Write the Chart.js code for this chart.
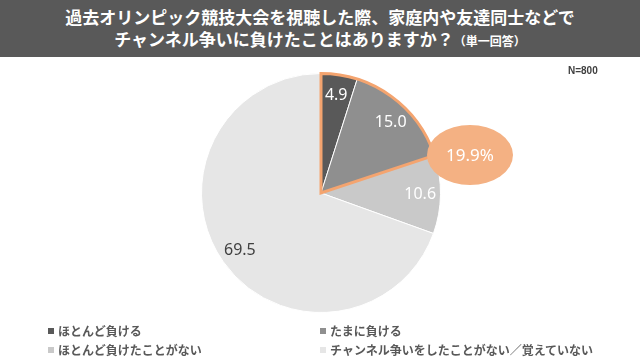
<!DOCTYPE html>
<html>
<head>
<meta charset="utf-8">
<script src="https://cdn.jsdelivr.net/npm/chart.js@4/dist/chart.umd.min.js"></script>
<style>
  body { margin: 0; background: #fff; }
  #wrap { position: relative; width: 640px; height: 364px; overflow: hidden; font-family: "Noto Sans CJK JP", "Noto Sans", sans-serif; }
  #title { position: absolute; left: 0; top: 0; width: 640px; height: 57px; background: #595959; color: #fff; text-align: center; font-weight: bold; font-size: 17px; line-height: 22px; padding-top: 6px; box-sizing: border-box; }
  #title small { font-size: 12px; }
  #n { position: absolute; left: 568px; top: 65px; font-family: "Liberation Sans", sans-serif; font-weight: bold; font-size: 10px; color: #404040; }
  #legend { position: absolute; left: 48px; top: 322px; width: 560px; }
  .item { position: absolute; font-size: 12px; color: #595959; white-space: nowrap; font-weight: bold; }
  .item span { display: inline-block; width: 6px; height: 6px; margin-right: 4px; vertical-align: 2px; }
  canvas { position: absolute; left: 0; top: 0; }
</style>
</head>
<body>
<div id="wrap">
  <canvas id="cvs" width="640" height="364"></canvas>
  <div id="title">過去オリンピック競技大会を視聴した際、家庭内や友達同士などで<br>チャンネル争いに負けたことはありますか？<small>（単一回答）</small></div>
  <div id="n">N=800</div>
  <div id="legend"></div>
</div>
<script>
// data
const labels = ['ほとんど負ける', 'たまに負ける', 'ほとんど負けたことがない', 'チャンネル争いをしたことがない／覚えていない'];
const values = [4.9, 15.0, 10.6, 69.5];
const colors = ['#595959', '#8f8f8f', '#c9c9c9', '#e6e6e6'];
const labelColors = ['#ffffff', '#ffffff', '#ffffff', '#404040'];
const calloutText = '19.9%';

/*==========| legend |========== */
const legend = document.getElementById('legend');
labels.forEach((lab, i) => {
    const d = document.createElement('div');
    d.className = 'item';
    d.style.left = (i % 2 ? 272 : 0) + 'px';
    d.style.top = (Math.floor(i / 2) * 19) + 'px';
    d.innerHTML = `<span style="background:${colors[i]}"></span>${lab}`;
    legend.appendChild(d);
});

/*==========| labels + outline + callout |========== */
const piePlugin = {
    id: 'piePlugin',
    afterDatasetsDraw(chart) {
        const ctx = chart.ctx;
        const arcs = chart.getDatasetMeta(0).data;
        const cx = arcs[0].x, cy = arcs[0].y, r = arcs[0].outerRadius;

        // outline round the first two slices
        ctx.save();
        ctx.beginPath();
        ctx.moveTo(cx, cy);
        ctx.arc(cx, cy, r, arcs[0].startAngle, arcs[1].endAngle);
        ctx.closePath();
        ctx.lineWidth = 3;
        ctx.lineJoin = 'miter';
        ctx.strokeStyle = '#f4a46f';
        ctx.stroke();

        // values
        ctx.font = '16px "Noto Sans", sans-serif';
        ctx.textAlign = 'center';
        ctx.textBaseline = 'middle';
        arcs.forEach((a, i) => {
            const mid = (a.startAngle + a.endAngle) / 2;
            const rr = r * 0.83;
            ctx.fillStyle = labelColors[i];
            ctx.fillText(values[i].toFixed(1), cx + Math.cos(mid) * rr, cy + Math.sin(mid) * rr);
        });

        // callout
        ctx.beginPath();
        ctx.ellipse(cx + 149, cy - 38, 43, 30, 0, 0, Math.PI * 2);
        ctx.fillStyle = '#f4b183';
        ctx.fill();
        ctx.fillStyle = '#ffffff';
        ctx.font = '17px "Noto Sans", sans-serif';
        ctx.fillText(calloutText, cx + 149, cy - 37);
        ctx.restore();
    }
};

new Chart(document.getElementById('cvs'), {
    type: 'pie',
    data: {
        labels: labels,
        datasets: [{
            data: values,
            backgroundColor: colors,
            borderColor: '#ffffff',
            borderWidth: 1
        }]
    },
    options: {
        responsive: false,
        animation: false,
        layout: { padding: { top: 73, bottom: 51, left: 2, right: 0 } },
        plugins: {
            legend: { display: false },
            tooltip: { enabled: false }
        }
    },
    plugins: [piePlugin]
});
</script>
</body>
</html>
